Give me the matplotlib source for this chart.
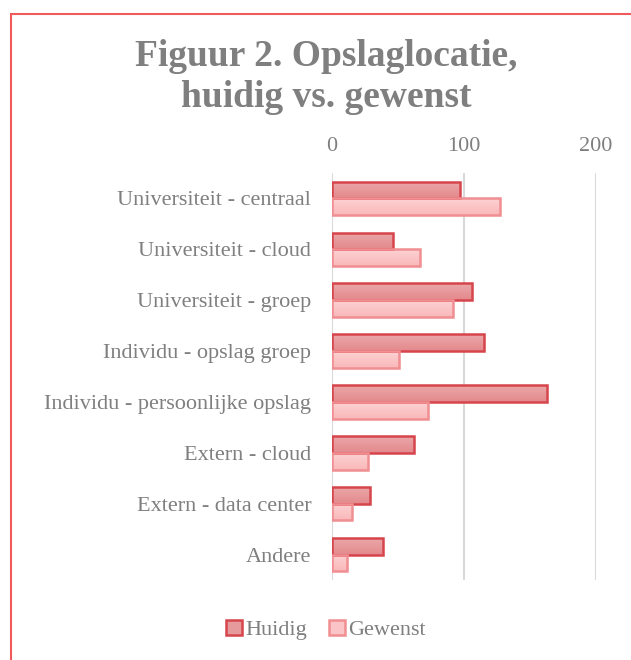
import matplotlib
matplotlib.use("Agg")
import matplotlib.pyplot as plt
import numpy as np
from matplotlib.patches import Rectangle, Patch
from matplotlib.colors import LinearSegmentedColormap

categories = ["Universiteit - centraal", "Universiteit - cloud", "Universiteit - groep",
              "Individu - opslag groep", "Individu - persoonlijke opslag", "Extern - cloud",
              "Extern - data center", "Andere"]
huidig = [97, 46, 106, 115, 163, 62, 29, 39]
gewenst = [127, 67, 92, 51, 73, 27, 15, 11]
xticks = [0, 100, 200]
series_names = ["Huidig", "Gewenst"]
title = "Figuur 2. Opslaglocatie,\nhuidig vs. gewenst"

W, H = 631, 660
fig = plt.figure(figsize=(W / 100, H / 100), dpi=100)
serif = ["Liberation Serif", "DejaVu Serif"]
gray = "#7F7F7F"

ax = fig.add_axes([332 / W, 1 - 580 / H, 264 / W, 407 / H])
n = len(categories)
y = np.arange(n)
bh = 0.33
c_h_fill, c_h_edge = "#E69A9C", "#D6454B"
c_g_fill, c_g_edge = "#FBC4C6", "#F08E91"
cm_h = LinearSegmentedColormap.from_list("h", ["#EBA8AA", "#E3898C"])
cm_g = LinearSegmentedColormap.from_list("g", ["#FDD2D3", "#F9B8BA"])
grad = np.linspace(0, 1, 64).reshape(-1, 1)


def draw(offset, vals, cmap, edge):
    bars = ax.barh(y + offset, vals, height=bh, facecolor="none", edgecolor=edge,
                   linewidth=1.8, zorder=4)
    for b in bars:
        x0, y0 = b.get_x(), b.get_y()
        w, h = b.get_width(), b.get_height()
        im = ax.imshow(grad, cmap=cmap, extent=(x0, x0 + w, y0 + h, y0), origin="upper",
                       aspect="auto", zorder=3, interpolation="bilinear")
        im.set_clip_path(b)


draw(-bh / 2, huidig, cm_h, c_h_edge)
draw(bh / 2, gewenst, cm_g, c_g_edge)
ax.set_ylim(n - 0.5, -0.5)
ax.set_xlim(0, 200)
ax.set_aspect("auto")
ax.set_xticks(xticks)
ax.xaxis.tick_top()
ax.set_yticks(y)
ax.set_yticklabels(categories)
for s in ax.spines.values():
    s.set_visible(False)
ax.grid(axis="x", color="#D9D9D9", linewidth=1.5, zorder=0)
ax.set_axisbelow(True)
ax.tick_params(axis="both", length=0, colors=gray, labelsize=16)
ax.tick_params(axis="x", pad=12)
ax.tick_params(axis="y", pad=15)
for lab in ax.get_xticklabels() + ax.get_yticklabels():
    lab.set_family(serif)
    lab.set_color(gray)

fig.text(326 / W, 1 - 77 / H, title, ha="center", va="center", fontsize=27, fontweight="bold",
         color=gray, family=serif, linespacing=1.25)

fig.patches.append(Rectangle((11 / W, -0.1), 1.2, 1 - 14 / H + 0.1, transform=fig.transFigure,
                             fill=False, edgecolor="#F05A5A", linewidth=1.5))

handles = [Patch(facecolor=c_h_fill, edgecolor=c_h_edge, linewidth=1.8),
           Patch(facecolor=c_g_fill, edgecolor=c_g_edge, linewidth=1.8)]
leg = fig.legend(handles, series_names, loc="center", bbox_to_anchor=(326 / W, 1 - 630 / H),
                 ncol=2, frameon=False, handlelength=0.7, handleheight=0.7, handletextpad=0.15,
                 columnspacing=1.0, prop={"family": serif, "size": 16})
for t in leg.get_texts():
    t.set_color(gray)

fig.savefig("out.png", dpi=100)
